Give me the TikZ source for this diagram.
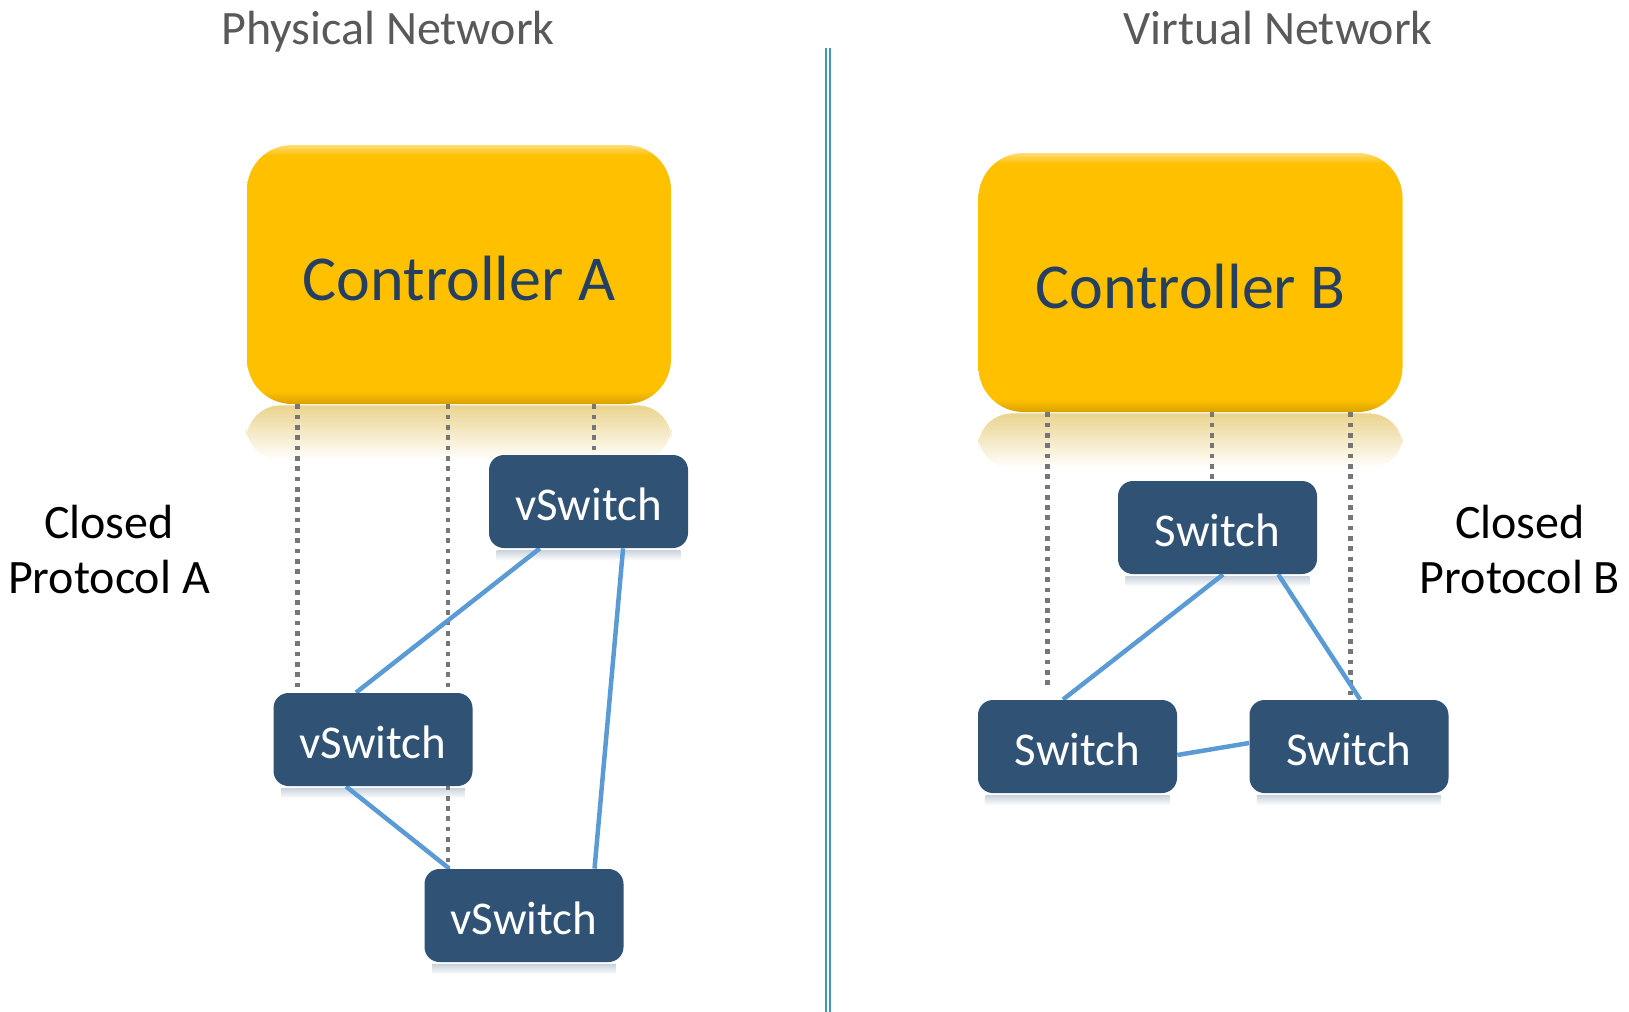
\documentclass[tikz,border=0pt]{standalone}
\usepackage{fontspec}
\setmainfont{Carlito}
\usepackage{xcolor}
\usepackage{tikz}
\usetikzlibrary{calc, backgrounds}
\definecolor{gold}{HTML}{FFC000}
\definecolor{golddark}{HTML}{D9A200}
\definecolor{goldlight}{HTML}{FFDC78}
\definecolor{reflgold}{HTML}{EBD48E}
\definecolor{navy}{HTML}{243F60}
\definecolor{swblue}{HTML}{2F5275}
\definecolor{linkblue}{HTML}{5B9BD5}
\definecolor{dotgray}{HTML}{767676}
\definecolor{divider}{HTML}{3F97B8}
\definecolor{titlegray}{HTML}{595959}
\pgfdeclareverticalshading{ctrlshading}{100bp}{color(0bp)=(golddark); color(25bp)=(golddark); color(27.5bp)=(gold); color(73bp)=(gold); color(75bp)=(goldlight); color(100bp)=(goldlight)}
\tikzset{
    controller/.style = {
        shade,
        shading         = ctrlshading,
        rounded corners = 22.5pt,
        minimum width   = 212pt,
        minimum height  = 129.5pt,
        text height     = 26pt,
        text depth      = 0pt,
        text            = navy,
        font            = \fontsize{32}{38}\selectfont,
    },
    switchbox/.style = {
        fill            = swblue,
        rounded corners = 7.5pt,
        minimum width   = 99.5pt,
        minimum height  = 46.5pt,
        text height     = 18.7pt,
        text depth      = 0pt,
        text            = white,
        font            = \fontsize{23.5}{28}\selectfont,
    },
    link/.style     = {draw = linkblue, line width = 2.25pt},
    ctrlline/.style = {draw = dotgray, line width = 2.25pt, dash pattern = on 2.35pt off 2.8pt},
    title/.style    = {anchor = base, text = titlegray, font = \fontsize{24}{29}\selectfont},
    protocol/.style = {align = center, font = \fontsize{24}{27.5}\selectfont},
}

\begin{document}
\begin{tikzpicture}[x = 0.5pt, y = -0.5pt]
        \useasboundingbox (0, 0) rectangle (1629, 1012);

        \node at (388, 44) (physical) [title] {Physical Network};
        \node at (1278, 44) (virtual) [title] {Virtual Network};

        \coordinate (top) at (828, 48);
        \coordinate (bottom) at (828, 1012);
        \draw [draw = divider, double = white, double distance = 1pt, line width = 1pt] (top) -- (bottom);

        \node at (459, 274.5) (ctrlA) [controller] {Controller A};
        \node at (588.5, 501.5) (vsT) [switchbox] {vSwitch};
        \node at (373, 739.5) (vsL) [switchbox] {vSwitch};
        \node at (524, 915.5) (vsB) [switchbox] {vSwitch};
        \node at (109, 550) (protoA) [protocol] {Closed\\Protocol A};

        \node at (1190.5, 282.5) (ctrlB) [controller] {Controller B};
        \node at (1217.5, 527.5) (swT) [switchbox] {Switch};
        \node at (1077.5, 746.5) (swL) [switchbox] {Switch};
        \node at (1349, 746.5) (swR) [switchbox] {Switch};
        \node at (1520, 550) (protoB) [protocol] {Closed\\Protocol B};

        \begin{scope}[on background layer]
            \foreach \c in {ctrlA, ctrlB}
                \shade [top color = reflgold, middle color = white, bottom color = white, rounded corners = 17pt]
                    ([yshift = -0.5pt]\c.south west) rectangle ([yshift = -28pt]\c.south east);
            \foreach \s in {vsT, vsL, vsB, swT, swL, swR}
                \shade [top color = swblue!25, bottom color = white]
                    ([xshift = 4pt, yshift = -1pt]\s.south west) rectangle ([xshift = -4pt, yshift = -6pt]\s.south east);

            \coordinate (a1) at ($(ctrlA.south west)!0.12!(ctrlA.south east)$);
            \coordinate (a2) at ($(ctrlA.south west)!0.474!(ctrlA.south east)$);
            \coordinate (a3) at ($(ctrlA.south west)!0.818!(ctrlA.south east)$);
            \draw [ctrlline] (a1) -- (a1 |- vsL.north);
            \draw [ctrlline] (a2) -- (a2 |- vsB.north);
            \draw [ctrlline] (a3) -- (a3 |- vsT.north);

            \coordinate (b1) at ($(ctrlB.south west)!0.163!(ctrlB.south east)$);
            \coordinate (b2) at ($(ctrlB.south west)!0.551!(ctrlB.south east)$);
            \coordinate (b3) at ($(ctrlB.south west)!0.877!(ctrlB.south east)$);
            \draw [ctrlline, shorten > = 5pt] (b1) -- (b1 |- swL.north);
            \draw [ctrlline] (b2) -- (b2 |- swT.north);
            \draw [ctrlline] (b3) -- (b3 |- swR.north);

            \draw [link] ($(vsT.south west)!0.256!(vsT.south east)$) -- ($(vsL.north west)!0.415!(vsL.north east)$);
            \draw [link] ($(vsT.south west)!0.673!(vsT.south east)$) -- ($(vsB.north west)!0.853!(vsB.north east)$);
            \draw [link] ($(vsL.south west)!0.365!(vsL.south east)$) -- ($(vsB.north west)!0.126!(vsB.north east)$);

            \draw [link] ($(swT.south west)!0.528!(swT.south east)$) -- ($(swL.north west)!0.427!(swL.north east)$);
            \draw [link] ($(swT.south west)!0.804!(swT.south east)$) -- ($(swR.north west)!0.556!(swR.north east)$);
            \draw [link] ([yshift = -4.25pt]swL.east) -- ([yshift = 1.75pt]swR.west);
        \end{scope}
    \end{tikzpicture}
\end{document}
